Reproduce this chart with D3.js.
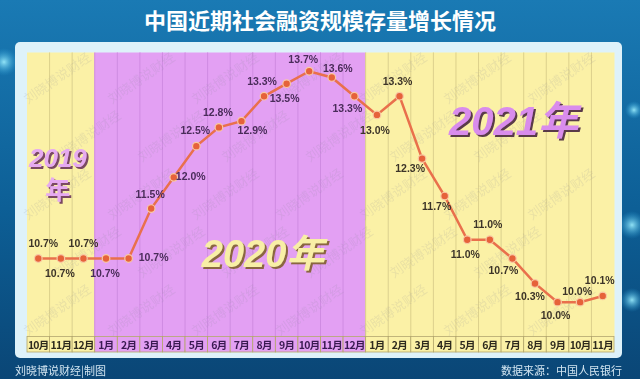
<!DOCTYPE html>
<html>
<head>
<meta charset="utf-8">
<script src="https://cdn.jsdelivr.net/npm/d3@7"></script>
<style>
  html, body { margin: 0; padding: 0; background: #0b4f82; }
  svg { display: block; }
</style>
</head>
<body>
<svg id="chart" width="640" height="379"></svg>
<script>
// data
const periods = ['2019-10', '2019-11', '2019-12',
  '2020-01', '2020-02', '2020-03', '2020-04', '2020-05', '2020-06',
  '2020-07', '2020-08', '2020-09', '2020-10', '2020-11', '2020-12',
  '2021-01', '2021-02', '2021-03', '2021-04', '2021-05', '2021-06',
  '2021-07', '2021-08', '2021-09', '2021-10', '2021-11']
const monthLabels = ['10月', '11月', '12月',
  '1月', '2月', '3月', '4月', '5月', '6月', '7月', '8月', '9月', '10月', '11月', '12月',
  '1月', '2月', '3月', '4月', '5月', '6月', '7月', '8月', '9月', '10月', '11月']
const growth = [10.7, 10.7, 10.7,
  10.7, 10.7, 11.5, 12.0, 12.5, 12.8, 12.9, 13.3, 13.5, 13.7, 13.6, 13.3,
  13.0, 13.3, 12.3, 11.7, 11.0, 11.0, 10.7, 10.3, 10.0, 10.0, 10.1]
const title = '中国近期社会融资规模存量增长情况'
const credit = '刘晓博说财经|制图'
const source = '数据来源：中国人民银行'
const watermark = '刘晓博说财经'

// label offsets from their point (layout only)
const labelOffsets = [
  [5, -15], [-1, 15], [0, -15], [-1, 15], [25, -1], [-1, -15], [17, -1],
  [-1, -16], [-1, -15], [11, 9], [-2, -15], [-2, 14], [-6, -12], [6, -9],
  [-7, 12], [-2, 15], [-2, -15], [-12, 9], [-8, 10], [-2, 14], [-2, -16],
  [-9, 12], [-5, 13], [-2, 13], [-3, -11], [-3, -16],
]

const width = 640
const height = 379
const plot = { left: 27, right: 614, top: 52.5, bottom: 336.5, rowH: 15.5 }
const colors = {
  yellow: '#fbf1a6',
  purple: '#e3a0f3',
  yellowGrid: '#dcd08c',
  purpleGrid: '#cf8be2',
  line: '#e9704c',
  dot: '#e6623a',
}

const svg = d3.select('#chart')
const defs = svg.append('defs')

// background gradient
const bg = defs.append('linearGradient').attr('id', 'bg').attr('x1', 0).attr('y1', 0).attr('x2', 0).attr('y2', 1)
bg.append('stop').attr('offset', '0%').attr('stop-color', '#1a7ab4')
bg.append('stop').attr('offset', '55%').attr('stop-color', '#0d5f96')
bg.append('stop').attr('offset', '100%').attr('stop-color', '#0a4676')
const glow = defs.append('radialGradient').attr('id', 'glow')
glow.append('stop').attr('offset', '0%').attr('stop-color', '#9ff0ff').attr('stop-opacity', 0.9)
glow.append('stop').attr('offset', '100%').attr('stop-color', '#2aa0d8').attr('stop-opacity', 0)

// drop shadows for the year text
const shadowColors = { s2019: '#7a4a62', s2020: '#8a6640', s2021: '#5a3a4a' }
Object.entries(shadowColors).forEach(([id, c]) => {
  defs.append('filter').attr('id', id)
    .attr('x', '-10%').attr('y', '-20%').attr('width', '130%').attr('height', '150%')
    .append('feDropShadow')
    .attr('dx', 2).attr('dy', 2).attr('stdDeviation', 0.6)
    .attr('flood-color', c).attr('flood-opacity', 1)
})

svg.append('rect').attr('width', width).attr('height', height).attr('fill', 'url(#bg)')
;[[4, 62, 14], [632, 225, 14], [632, 300, 12], [634, 110, 9]].forEach(([cx, cy, r]) => {
  svg.append('circle').attr('cx', cx).attr('cy', cy).attr('r', r).attr('fill', 'url(#glow)')
})

// title
svg.append('text')
  .attr('x', width / 2).attr('y', 19)
  .attr('text-anchor', 'middle').attr('dominant-baseline', 'central')
  .attr('font-family', '"Noto Sans CJK SC", sans-serif')
  .attr('font-weight', 'bold').attr('font-size', 22)
  .attr('fill', '#ffffff')
  .text(title)

// panel
svg.append('rect')
  .attr('x', 15).attr('y', 42).attr('width', 607).attr('height', 316)
  .attr('rx', 5).attr('fill', '#def2fa')

// scales
const x = d3.scaleBand().domain(periods).range([plot.left, plot.right]).padding(0)
const y = d3.scaleLinear().domain([9.45, 14.0]).range([plot.bottom, plot.top])
const mid = (p) => x(p) + x.bandwidth() / 2
const yearOf = (p) => p.slice(0, 4)
const fillOf = (p) => (yearOf(p) === '2020' ? colors.purple : colors.yellow)
const gridOf = (p) => (yearOf(p) === '2020' ? colors.purpleGrid : colors.yellowGrid)

// columns
const cols = svg.append('g').attr('class', 'cols')
cols.selectAll('rect')
  .data(periods)
  .join('rect')
  .attr('x', (d) => x(d))
  .attr('y', plot.top)
  .attr('width', x.bandwidth() + 0.5)
  .attr('height', plot.bottom - plot.top)
  .attr('fill', fillOf)
cols.selectAll('line')
  .data(periods.slice(1))
  .join('line')
  .attr('x1', (d) => x(d)).attr('x2', (d) => x(d))
  .attr('y1', plot.top).attr('y2', plot.bottom)
  .attr('stroke', gridOf).attr('stroke-width', 1)

// watermark, kept inside the panel
const wm = svg.append('g').attr('class', 'watermark')
  .attr('font-family', '"Noto Sans CJK SC", sans-serif')
  .attr('font-size', 13).attr('fill', '#8a8a9a').attr('opacity', 0.15)
for (let r = 0; r < 5; r++) {
  for (let c = 0; c < 7; c++) {
    const wx = 60 + c * 84 + (r % 2) * 30
    const wy = 82 + r * 58
    if (wx > 580) continue
    wm.append('text')
      .attr('transform', `translate(${wx},${wy}) rotate(-35)`)
      .attr('text-anchor', 'middle')
      .text(watermark)
  }
}

// year annotations
const yearFont = '"Liberation Sans", "Noto Sans CJK SC", sans-serif'
const yearLabels = [
  { text: '2019', period: '2019-11', dx: -3, value: 12.17, size: 26, italic: true, fill: '#e6aaf0', shadow: 's2019' },
  { text: '年', period: '2019-11', dx: -3, value: 11.66, size: 25, italic: false, fill: '#e6aaf0', shadow: 's2019' },
  { text: '2020年', period: '2020-08', dx: -1, value: 10.56, size: 38, italic: true, fill: '#f8efa6', shadow: 's2020' },
  { text: '2021年', period: '2021-07', dx: 1, value: 12.68, size: 40, italic: true, fill: '#d98cec', shadow: 's2021' },
]
svg.append('g').attr('class', 'years')
  .selectAll('text')
  .data(yearLabels)
  .join('text')
  .attr('x', (d) => mid(d.period) + d.dx)
  .attr('y', (d) => y(d.value))
  .attr('text-anchor', 'middle')
  .attr('font-family', yearFont)
  .attr('font-weight', 'bold')
  .attr('font-style', (d) => (d.italic ? 'italic' : 'normal'))
  .attr('font-size', (d) => d.size)
  .attr('fill', (d) => d.fill)
  .attr('filter', (d) => `url(#${d.shadow})`)
  .text((d) => d.text)

// line + points
const pts = periods.map((p, i) => ({ p, v: growth[i], i }))
svg.append('path')
  .datum(pts)
  .attr('d', d3.line().x((d) => mid(d.p)).y((d) => y(d.v)))
  .attr('fill', 'none')
  .attr('stroke', colors.line)
  .attr('stroke-width', 2.5)
svg.append('g').selectAll('circle')
  .data(pts)
  .join('circle')
  .attr('cx', (d) => mid(d.p)).attr('cy', (d) => y(d.v))
  .attr('r', 3.8)
  .attr('fill', colors.dot)
  .attr('stroke', '#f8c9a4').attr('stroke-width', 1.2)

// value labels
svg.append('g').selectAll('text')
  .data(pts)
  .join('text')
  .attr('x', (d) => mid(d.p) + labelOffsets[d.i][0])
  .attr('y', (d) => y(d.v) + labelOffsets[d.i][1])
  .attr('text-anchor', 'middle').attr('dominant-baseline', 'central')
  .attr('font-family', '"Liberation Sans", sans-serif')
  .attr('font-weight', 'bold').attr('font-size', 10.5)
  .attr('fill', (d) => (yearOf(d.p) === '2020' ? '#4a2c5a' : '#3c3428'))
  .text((d) => d.v.toFixed(1) + '%')

// month row
const row = svg.append('g').attr('class', 'month-row')
row.selectAll('rect')
  .data(periods)
  .join('rect')
  .attr('x', (d) => x(d))
  .attr('y', plot.bottom)
  .attr('width', x.bandwidth())
  .attr('height', plot.rowH)
  .attr('fill', fillOf)
  .attr('stroke', '#b3a66a').attr('stroke-width', 0.8)
row.selectAll('text')
  .data(periods)
  .join('text')
  .attr('x', (d) => mid(d))
  .attr('y', plot.bottom + plot.rowH / 2 + 0.5)
  .attr('text-anchor', 'middle').attr('dominant-baseline', 'central')
  .attr('font-family', '"Noto Sans CJK SC", sans-serif')
  .attr('font-weight', 'bold').attr('font-size', 10.5)
  .attr('letter-spacing', -0.7)
  .attr('fill', (d) => (yearOf(d) === '2020' ? '#3a1a52' : '#2e2a1e'))
  .text((d, i) => monthLabels[i])

// footer
svg.append('text')
  .attr('x', 15).attr('y', 370)
  .attr('dominant-baseline', 'central')
  .attr('font-family', '"Noto Sans CJK SC", sans-serif')
  .attr('font-size', 11).attr('fill', '#d3e6f2')
  .text(credit)
svg.append('text')
  .attr('x', 622).attr('y', 370)
  .attr('text-anchor', 'end').attr('dominant-baseline', 'central')
  .attr('font-family', '"Noto Sans CJK SC", sans-serif')
  .attr('font-size', 11).attr('fill', '#d3e6f2')
  .text(source)
</script>
</body>
</html>
